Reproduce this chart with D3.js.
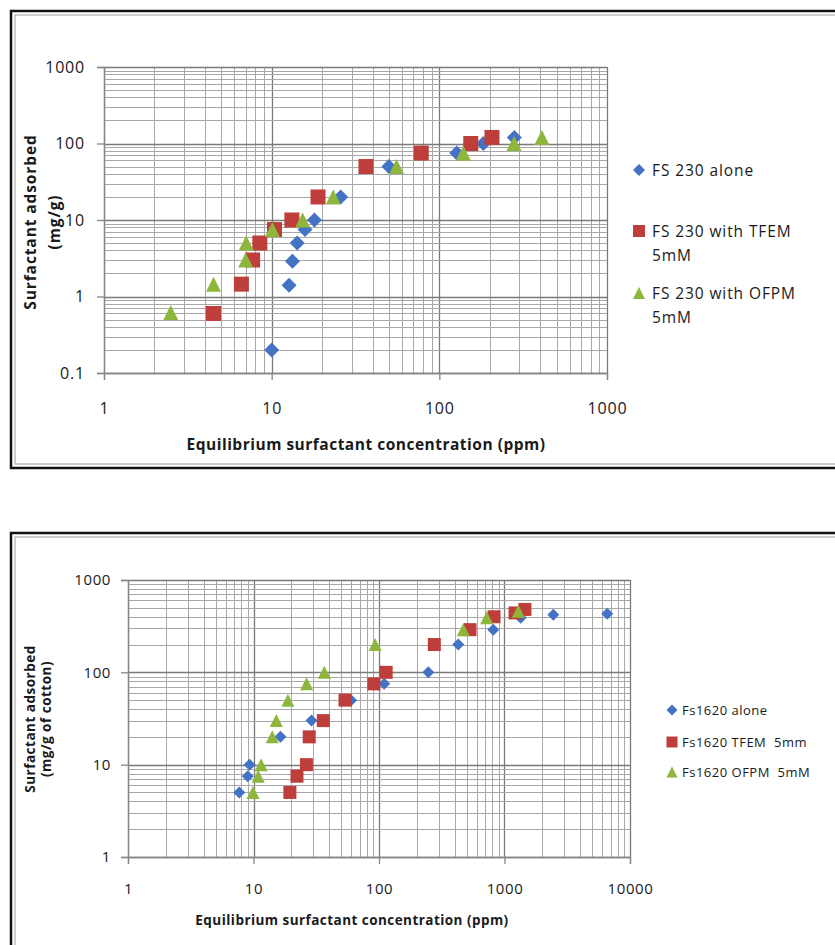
<!DOCTYPE html>
<html>
<head>
<meta charset="utf-8">
<script src="https://cdn.jsdelivr.net/npm/d3@7"></script>
<style>
  body { margin: 0; background: #fff; }
  svg { display: block; }
  text { font-family: "Open Sans", sans-serif; fill: #1a1a1a; white-space: pre; }
</style>
</head>
<body>
<svg id="figure" width="835" height="945"></svg>
<script>
// ---------- FS 230 adsorption isotherms ----------
const fs230AloneX = [10, 12.7, 13.3, 14.2, 15.8, 18, 25.8, 50, 127, 183, 280];
const fs230AloneY = [0.2, 1.4, 2.9, 5, 7.5, 10, 20, 50, 75, 100, 120];
const fs230TfemX  = [4.5, 6.6, 7.7, 8.5, 10.4, 13.2, 18.9, 36.5, 78, 154, 206];
const fs230TfemY  = [0.6, 1.45, 3, 5, 7.5, 10, 20, 50, 75, 100, 120];
const fs230OfpmX  = [2.5, 4.5, 7.0, 7.05, 10.1, 15.3, 23.3, 55.6, 139, 279, 409];
const fs230OfpmY  = [0.62, 1.45, 3, 5, 7.5, 10, 20, 50, 75, 100, 120];
const fs230Labels = [["FS 230 alone"], ["FS 230 with TFEM", "5mM"], ["FS 230 with OFPM", "5mM"]];
const fs230XTicks = [1, 10, 100, 1000];
const fs230YTicks = [0.1, 1, 10, 100, 1000];
const fs230XTickLabels = ["1", "10", "100", "1000"];
const fs230YTickLabels = ["0.1", "1", "10", "100", "1000"];

// ---------- Fs1620 adsorption isotherms ----------
const fs1620AloneX = [7.7, 9.0, 9.3, 16.4, 29, 60, 110, 247, 428, 814, 1346, 2448, 6590];
const fs1620AloneY = [5, 7.5, 10, 20, 30, 50, 75, 100, 200, 290, 390, 420, 430];
const fs1620TfemX  = [19.5, 22.2, 26.4, 27.8, 36, 53.6, 91, 114, 276, 531, 825, 1213, 1455];
const fs1620TfemY  = [5, 7.5, 10, 20, 30, 50, 75, 100, 200, 290, 400, 440, 480];
const fs1620OfpmX  = [9.9, 10.9, 11.5, 14.1, 15.2, 18.8, 26.5, 36.7, 93, 469, 721, 1289];
const fs1620OfpmY  = [5, 7.5, 10, 20, 30, 50, 75, 100, 200, 290, 390, 460];
const fs1620Labels = [["Fs1620 alone"], ["Fs1620 TFEM  5mm"], ["Fs1620 OFPM  5mM"]];
const fs1620XTicks = [1, 10, 100, 1000, 10000];
const fs1620YTicks = [1, 10, 100, 1000];
const fs1620XTickLabels = ["1", "10", "100", "1000", "10000"];
const fs1620YTickLabels = ["1", "10", "100", "1000"];

const xTitle = "Equilibrium surfactant concentration (ppm)";
const yTitleLine1 = "Surfactant adsorbed";

const COLORS = { diamond: "#4472C4", square: "#BE3E3B", triangle: "#8FB63C" };

const svg = d3.select("#figure");

function markerPath(shape, s) {
  const h = s / 2;
  if (shape === "diamond") return `M0,${-h}L${h},0L0,${h}L${-h},0Z`;
  if (shape === "square") return `M${-h},${-h}H${h}V${h}H${-h}Z`;
  return `M0,${-h}L${h},${h}L${-h},${h}Z`;
}

// every 1..9 multiple inside a log domain, for the grid
function logGridValues(domain) {
  const out = [];
  for (let d = domain[0]; d < domain[1] * 0.999; d *= 10) {
    for (let m = 1; m <= 9; m++) out.push(d * m);
  }
  out.push(domain[1]);
  return out;
}

function drawChart(cfg) {
  const g = svg.append("g");

  // outer double frame
  g.append("rect").attr("x", cfg.frame.x).attr("y", cfg.frame.y)
    .attr("width", cfg.frame.w).attr("height", cfg.frame.h)
    .attr("fill", "none").attr("stroke", "#111").attr("stroke-width", 2.5);
  g.append("rect").attr("x", cfg.frame.x + 4).attr("y", cfg.frame.y + 4)
    .attr("width", cfg.frame.w - 8).attr("height", cfg.frame.h - 8)
    .attr("fill", "none").attr("stroke", "#9a9a9a").attr("stroke-width", 1);

  const x = d3.scaleLog().domain(cfg.xDomain).range([cfg.plot.x0, cfg.plot.x1]);
  const y = d3.scaleLog().domain(cfg.yDomain).range([cfg.plot.y1, cfg.plot.y0]);

  const isMajor = v => Math.abs(Math.log10(v) - Math.round(Math.log10(v))) < 1e-6;

  // grid
  const grid = g.append("g");
  grid.selectAll("line.vx").data(logGridValues(cfg.xDomain)).join("line")
    .attr("x1", d => Math.round(x(d)) + 0.5).attr("x2", d => Math.round(x(d)) + 0.5)
    .attr("y1", cfg.plot.y0).attr("y2", cfg.plot.y1)
    .attr("stroke", d => isMajor(d) ? "#7a7a7a" : "#a8a8a8")
    .attr("stroke-width", d => isMajor(d) ? 1.3 : 1);
  grid.selectAll("line.hy").data(logGridValues(cfg.yDomain)).join("line")
    .attr("y1", d => Math.round(y(d)) + 0.5).attr("y2", d => Math.round(y(d)) + 0.5)
    .attr("x1", cfg.plot.x0).attr("x2", cfg.plot.x1)
    .attr("stroke", d => isMajor(d) ? "#7a7a7a" : "#a8a8a8")
    .attr("stroke-width", d => isMajor(d) ? 1.3 : 1);

  // axes
  const xAxis = d3.axisBottom(x).tickValues(cfg.xTicks)
    .tickFormat((d, i) => cfg.xTickLabels[i]).tickSize(7).tickPadding(cfg.xTickPad);
  const yAxis = d3.axisLeft(y).tickValues(cfg.yTicks)
    .tickFormat((d, i) => cfg.yTickLabels[i]).tickSize(7).tickPadding(cfg.yTickPad);
  const gx = g.append("g").attr("transform", `translate(0,${cfg.plot.y1})`).call(xAxis);
  const gy = g.append("g").attr("transform", `translate(${cfg.plot.x0},0)`).call(yAxis);
  [gx, gy].forEach(a => {
    a.select(".domain").attr("stroke", "#868686").attr("stroke-width", 1.3);
    a.selectAll(".tick line").attr("stroke", "#868686").attr("stroke-width", 1.3);
    a.selectAll(".tick text").attr("font-family", "Open Sans, sans-serif")
      .attr("font-size", cfg.tickFont).attr("letter-spacing", cfg.tickSpacing)
      .attr("fill", "#222");
  });

  // axis titles
  g.append("text").attr("x", cfg.xTitle.x).attr("y", cfg.xTitle.y)
    .attr("text-anchor", "middle").attr("font-weight", "bold")
    .attr("letter-spacing", cfg.xTitle.spacing)
    .attr("font-size", cfg.xTitle.size).text(xTitle);
  cfg.yTitle.lines.forEach((t, i) => {
    g.append("text")
      .attr("transform", `translate(${cfg.yTitle.xs[i]},${cfg.yTitle.cy}) rotate(-90)`)
      .attr("text-anchor", "middle").attr("font-weight", "bold")
      .attr("letter-spacing", cfg.yTitle.spacing)
      .attr("font-size", cfg.yTitle.size).text(t);
  });

  // markers
  cfg.series.forEach(s => {
    const pts = s.x.map((v, i) => [v, s.y[i]]);
    g.append("g").selectAll("path").data(pts).join("path")
      .attr("d", markerPath(s.shape, cfg.markerSize[s.shape]))
      .attr("transform", d => `translate(${x(d[0])},${y(d[1])})`)
      .attr("fill", COLORS[s.shape]);
  });

  // legend
  cfg.series.forEach((s, i) => {
    const ly = cfg.legend.ys[i];
    g.append("path").attr("d", markerPath(s.shape, cfg.legend.marker))
      .attr("transform", `translate(${cfg.legend.x},${ly})`)
      .attr("fill", COLORS[s.shape]);
    s.label.forEach((line, j) => {
      g.append("text").attr("x", cfg.legend.x + cfg.legend.gap)
        .attr("y", ly + cfg.legend.baseline + j * cfg.legend.lineH)
        .attr("font-size", cfg.legend.size).attr("letter-spacing", cfg.legend.spacing)
        .attr("fill", "#222").text(line);
    });
  });
}

drawChart({
  frame: { x: 11, y: 11, w: 840, h: 457 },
  plot: { x0: 104, x1: 607, y0: 67, y1: 373 },
  xDomain: [1, 1000], yDomain: [0.1, 1000],
  xTicks: fs230XTicks, yTicks: fs230YTicks,
  xTickLabels: fs230XTickLabels, yTickLabels: fs230YTickLabels,
  xTickPad: 23, yTickPad: 12, tickFont: 16, tickSpacing: 0.8,
  xTitle: { x: 366, y: 450, size: 15.5, spacing: 0.5 },
  yTitle: { lines: [yTitleLine1, "(mg/g)"], xs: [36, 60], cy: 222, size: 15.5, spacing: 0.9 },
  markerSize: { diamond: 15, square: 15, triangle: 15 },
  series: [
    { x: fs230AloneX, y: fs230AloneY, shape: "diamond", label: fs230Labels[0] },
    { x: fs230TfemX, y: fs230TfemY, shape: "square", label: fs230Labels[1] },
    { x: fs230OfpmX, y: fs230OfpmY, shape: "triangle", label: fs230Labels[2] }
  ],
  legend: { x: 639, ys: [170, 231, 293], gap: 13, baseline: 5.5, lineH: 24, size: 15.5, spacing: 0.9, marker: 12 }
});

drawChart({
  frame: { x: 11, y: 533, w: 840, h: 440 },
  plot: { x0: 128, x1: 630, y0: 580, y1: 857 },
  xDomain: [1, 10000], yDomain: [1, 1000],
  xTicks: fs1620XTicks, yTicks: fs1620YTicks,
  xTickLabels: fs1620XTickLabels, yTickLabels: fs1620YTickLabels,
  xTickPad: 19, yTickPad: 10, tickFont: 15, tickSpacing: 0.6,
  xTitle: { x: 352, y: 925, size: 13.5, spacing: 0.45 },
  yTitle: { lines: [yTitleLine1, "(mg/g of cotton)"], xs: [35, 51], cy: 719, size: 13.5, spacing: 0.5 },
  markerSize: { diamond: 12, square: 13, triangle: 13 },
  series: [
    { x: fs1620AloneX, y: fs1620AloneY, shape: "diamond", label: fs1620Labels[0] },
    { x: fs1620TfemX, y: fs1620TfemY, shape: "square", label: fs1620Labels[1] },
    { x: fs1620OfpmX, y: fs1620OfpmY, shape: "triangle", label: fs1620Labels[2] }
  ],
  legend: { x: 672, ys: [710, 742, 772], gap: 10, baseline: 5, lineH: 20, size: 13, spacing: 0.5, marker: 11 }
});
</script>
</body>
</html>
